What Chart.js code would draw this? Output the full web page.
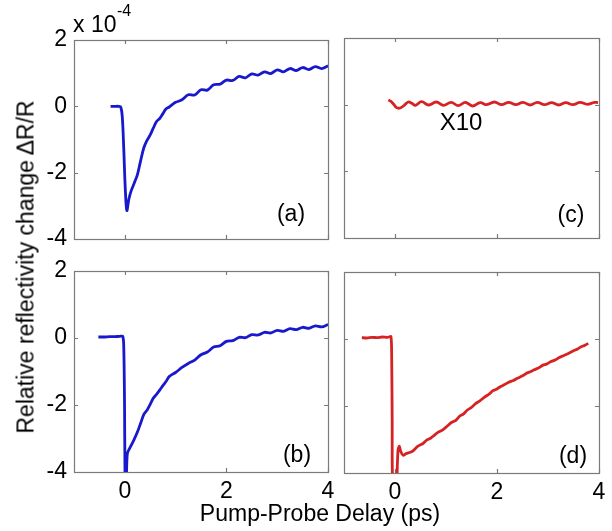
<!DOCTYPE html>
<html>
<head>
<meta charset="utf-8">
<script src="https://cdn.jsdelivr.net/npm/chart.js@4"></script>
<style>
  html, body { margin:0; padding:0; background:#fff; }
  #wrap { position:relative; width:612px; height:531px; overflow:hidden; background:#fff; }
  canvas { position:absolute; left:0; top:0; }
  .t { position:absolute; font-family: Arial, "Liberation Sans", sans-serif; color:#000; white-space:nowrap; line-height:1; }
</style>
</head>
<body>
<div id="wrap">
  <canvas id="ca" width="612" height="531"></canvas>
  <canvas id="cb" width="612" height="531"></canvas>
  <canvas id="cc" width="612" height="531"></canvas>
  <canvas id="cd" width="612" height="531"></canvas>
  <div class="t" style="left:26px;top:267px;font-size:23px;transform:translate(-50%,-50%) rotate(-90deg);">Relative reflectivity change&#8201;ΔR/R</div>
  <div class="t" style="left:320px;top:513px;font-size:23px;transform:translate(-50%,-50%);">Pump-Probe Delay (ps)</div>
  <div class="t" style="left:73px;top:13px;font-size:23px;">x 10</div>
  <div class="t" style="left:117px;top:3px;font-size:16px;">-4</div>
  <div class="t" style="left:291px;top:213px;font-size:23px;transform:translate(-50%,-50%);">(a)</div>
  <div class="t" style="left:297px;top:454px;font-size:23px;transform:translate(-50%,-50%);">(b)</div>
  <div class="t" style="left:571px;top:214px;font-size:23px;transform:translate(-50%,-50%);">(c)</div>
  <div class="t" style="left:573px;top:455px;font-size:23px;transform:translate(-50%,-50%);">(d)</div>
  <div class="t" style="left:461px;top:122px;font-size:24px;transform:translate(-50%,-50%);">X10</div>
</div>
<script>
// ---- data (ΔR/R in units of 1e-4, delay in ps) ----
const xTicks = [0, 2, 4];
const xTickLabels = ['0', '2', '4'];
const yTicks = [-4, -2, 0, 2];
const yTickLabels = ['-4', '-2', '0', '2'];

const aX = [-0.28,-0.2,-0.12,-0.08,-0.05,-0.02,0.01,0.04,0.08,0.125,0.19,0.25,0.31,0.375,0.44,0.5,0.56,0.625,0.69,0.75,0.81,0.875,0.94,1.0,1.125,1.25,1.375,1.5,1.625,1.75,1.875,2.0,2.125,2.25,2.375,2.5,2.625,2.75,2.875,3.0,3.125,3.25,3.375,3.5,3.625,3.75,3.875,4.0];
const aY = [0,0,0,-0.02,-0.3,-1.3,-2.5,-3.14,-2.8,-2.55,-2.3,-2.05,-1.65,-1.25,-1.02,-0.86,-0.66,-0.46,-0.36,-0.22,-0.08,-0.02,0.06,0.12,0.2,0.35,0.34,0.5,0.49,0.65,0.67,0.79,0.78,0.9,0.86,0.98,0.94,1.04,0.99,1.1,1.04,1.14,1.08,1.17,1.11,1.2,1.14,1.22];

const bX = [-0.52,-0.4,-0.3,-0.2,-0.1,-0.04,-0.02,-0.005,0.005,0.02,0.03,0.05,0.1,0.18,0.25,0.31,0.375,0.44,0.5,0.56,0.625,0.69,0.75,0.81,0.875,0.94,1.0,1.125,1.25,1.375,1.5,1.625,1.75,1.875,2.0,2.125,2.25,2.375,2.5,2.625,2.75,2.875,3.0,3.125,3.25,3.375,3.5,3.625,3.75,3.875,4.0];
const bY = [0.03,0.03,0.04,0.04,0.05,0.05,-0.3,-2.0,-4.3,-3.5,-4.3,-3.45,-3.28,-3.04,-2.8,-2.55,-2.28,-2.15,-1.98,-1.8,-1.68,-1.55,-1.42,-1.3,-1.15,-1.08,-1.03,-0.88,-0.76,-0.66,-0.5,-0.42,-0.27,-0.23,-0.1,-0.08,0.02,0.01,0.1,0.09,0.17,0.15,0.23,0.2,0.28,0.25,0.32,0.29,0.36,0.33,0.4];

// panel (c) is shown multiplied by 10
const cX = [-0.13,-0.08,-0.03,0.03,0.1,0.18,0.26,0.33,0.4,0.52,0.66,0.81,0.95,1.1,1.24,1.38,1.52,1.67,1.8,1.95,2.09,2.23,2.37,2.51,2.65,2.79,2.93,3.07,3.21,3.35,3.49,3.63,3.77,3.91,3.98];
const cY = [0.14,0.1,0.02,-0.09,-0.1,-0.02,0.08,0.04,-0.02,0.09,-0.01,0.08,-0.02,0.07,-0.03,0.07,-0.04,0.06,0.0,0.08,0.0,0.07,0.0,0.07,-0.01,0.07,0.0,0.06,-0.01,0.06,0.0,0.07,0.01,0.07,0.06];

const dX = [-0.65,-0.55,-0.45,-0.35,-0.25,-0.15,-0.08,-0.065,-0.055,-0.045,0.03,0.045,0.06,0.085,0.11,0.16,0.22,0.3,0.36,0.45,0.55,0.62,0.69,0.78,0.85,0.93,1.01,1.1,1.2,1.27,1.34,1.42,1.5,1.58,1.67,1.75,1.85,1.92,1.99,2.07,2.15,2.23,2.32,2.4,2.5,2.58,2.65,2.73,2.82,2.9,2.97,3.05,3.15,3.22,3.3,3.4,3.5,3.58,3.65,3.72,3.79];
const dY = [0.04,0.03,0.05,0.04,0.06,0.05,0.07,-0.5,-2.5,-4.3,-4.3,-3.8,-3.3,-3.2,-3.35,-3.47,-3.42,-3.38,-3.33,-3.2,-3.12,-3.02,-2.97,-2.86,-2.78,-2.72,-2.62,-2.5,-2.42,-2.3,-2.24,-2.12,-2.04,-1.93,-1.84,-1.74,-1.64,-1.54,-1.5,-1.42,-1.36,-1.29,-1.24,-1.17,-1.1,-1.02,-0.98,-0.92,-0.86,-0.78,-0.75,-0.68,-0.62,-0.55,-0.5,-0.43,-0.35,-0.3,-0.23,-0.19,-0.13];

const BLUE = 'rgb(24,24,204)';
const RED = 'rgb(214,34,34)';
const FONT = { family: 'Arial, "Liberation Sans", sans-serif', size: 23 };
const YW = 60, XH = 40;

const boxPlugin = {
  id: 'box',
  beforeDatasetsDraw(chart) {
    const { ctx, chartArea: a, scales } = chart;
    ctx.save();
    ctx.strokeStyle = '#7a7a7a';
    ctx.lineWidth = 1.2;
    ctx.strokeRect(a.left + 0.5, a.top + 0.5, a.right - a.left, a.bottom - a.top);
    ctx.beginPath();
    xTicks.forEach(v => {
      const p = Math.round(scales.x.getPixelForValue(v)) + 0.5;
      ctx.moveTo(p, a.bottom); ctx.lineTo(p, a.bottom - 4);
      ctx.moveTo(p, a.top); ctx.lineTo(p, a.top + 4);
    });
    yTicks.forEach(v => {
      const p = Math.round(scales.y.getPixelForValue(v)) + 0.5;
      ctx.moveTo(a.left, p); ctx.lineTo(a.left + 4, p);
      ctx.moveTo(a.right, p); ctx.lineTo(a.right - 4, p);
    });
    ctx.stroke();
    ctx.restore();
  }
};

function panel(id, xs, ys, color, rect, showX, showY, tension) {
  const pts = xs.map((x, i) => ({ x: x, y: ys[i] }));
  new Chart(document.getElementById(id), {
    type: 'line',
    data: { datasets: [{ data: pts, borderColor: color, borderWidth: 2.8, pointRadius: 0, tension: tension, fill: false, clip: 0 }] },
    options: {
      responsive: false, animation: false, devicePixelRatio: 1,
      layout: { padding: { left: rect.l - YW, top: rect.t, right: 612 - rect.r, bottom: 531 - rect.b - XH } },
      plugins: { legend: { display: false }, tooltip: { enabled: false } },
      scales: {
        x: {
          type: 'linear', min: -1, max: 4,
          afterBuildTicks(s) { s.ticks = xTicks.map(v => ({ value: v })); },
          afterFit(s) { s.height = XH; s.paddingLeft = 0; s.paddingRight = 0; },
          grid: { display: false, drawTicks: false },
          border: { display: false },
          ticks: { display: showX, color: '#000', font: FONT, padding: 6, maxRotation: 0, autoSkip: false,
                   callback: (v, i) => xTickLabels[xTicks.indexOf(v)] }
        },
        y: {
          type: 'linear', min: -4, max: 2,
          afterBuildTicks(s) { s.ticks = yTicks.map(v => ({ value: v })); },
          afterFit(s) { s.width = YW; s.paddingTop = 0; s.paddingBottom = 0; },
          grid: { display: false, drawTicks: false },
          border: { display: false },
          ticks: { display: showY, color: '#000', font: FONT, padding: 7, autoSkip: false,
                   callback: (v, i) => yTickLabels[yTicks.indexOf(v)] }
        }
      }
    },
    plugins: [boxPlugin]
  });
}

panel('ca', aX, aY, BLUE, { l: 74, t: 40, r: 328, b: 239 }, false, true, 0.35);
panel('cb', bX, bY, BLUE, { l: 74, t: 271, r: 328, b: 472 }, true, true, 0.3);
panel('cc', cX, cY, RED, { l: 344, t: 38, r: 599, b: 238 }, false, false, 0.4);
panel('cd', dX, dY, RED, { l: 344, t: 272, r: 599, b: 473 }, true, false, 0.2);
</script>
</body>
</html>
